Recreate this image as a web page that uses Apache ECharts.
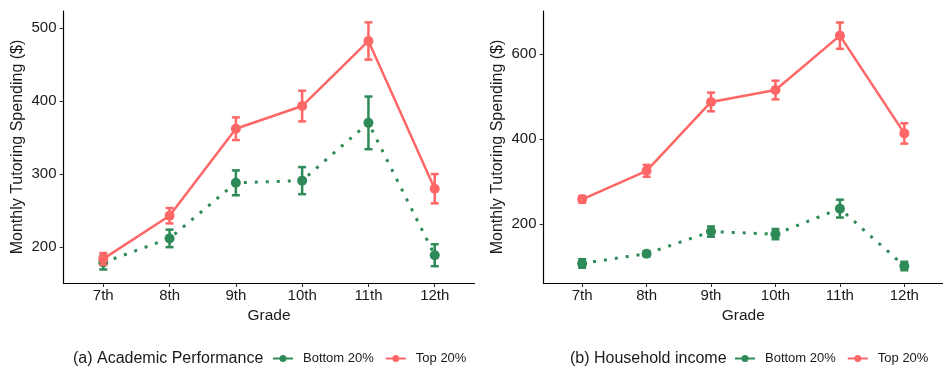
<!DOCTYPE html>
<html>
<head>
<meta charset="utf-8">
<script src="https://cdn.jsdelivr.net/npm/echarts@6/dist/echarts.min.js"></script>
<style>
html,body{margin:0;padding:0;background:#fff;}
#c{width:943px;height:368px;}
</style>
</head>
<body>
<div id="c"></div>
<script>
// ---- data ----
var grades = ['7th', '8th', '9th', '10th', '11th', '12th'];
var seriesNames = ['Bottom 20%', 'Top 20%'];
var panelCaptions = ['(a) Academic Performance', '(b) Household income'];
var yTicksAcademic = [200, 300, 400, 500];
var yTicksIncome = [200, 400, 600];

// (a) Academic performance
var acadBottomMean = [179, 212, 288, 291, 370, 189];
var acadBottomErr  = [9.5, 12, 17, 18.5, 36, 15];
var acadTopMean    = [184, 243, 362, 393, 482, 280];
var acadTopErr     = [8, 10.5, 15.5, 21, 25.5, 20];

// (b) Household income
var incBottomMean = [107, 130, 182, 176, 236, 101];
var incBottomErr  = [10, 6, 12, 12, 21, 10];
var incTopMean    = [258, 325, 487, 515, 643, 413];
var incTopErr     = [8, 14, 22, 22, 31, 24];

// ---- style ----
var GREEN = '#2E8B57';
var RED = '#FF6666';
var FONT = 'Liberation Sans, Arial, Helvetica, sans-serif';

function pts(means) { return means.map(function (v, i) { return [i + 1, v]; }); }
function bars(means, errs) { return means.map(function (v, i) { return [i + 1, v - errs[i], v + errs[i]]; }); }

function errSeries(name, means, errs, color, idx) {
  return {
    type: 'custom', name: name, xAxisIndex: idx, yAxisIndex: idx,
    data: bars(means, errs), z: color === RED ? 4 : 2,
    renderItem: function (params, api) {
      var x = api.value(0);
      var lo = api.coord([x, api.value(1)]);
      var hi = api.coord([x, api.value(2)]);
      var hw = 4;
      var st = { stroke: color, lineWidth: 2.5, fill: null };
      return {
        type: 'group',
        children: [
          { type: 'line', shape: { x1: lo[0], y1: lo[1], x2: hi[0], y2: hi[1] }, style: st },
          { type: 'line', shape: { x1: lo[0] - hw, y1: lo[1], x2: lo[0] + hw, y2: lo[1] }, style: st },
          { type: 'line', shape: { x1: hi[0] - hw, y1: hi[1], x2: hi[0] + hw, y2: hi[1] }, style: st }
        ]
      };
    }
  };
}
function lineSeries(name, means, color, idx, dotted) {
  return {
    type: 'line', name: name, xAxisIndex: idx, yAxisIndex: idx,
    data: pts(means), symbol: 'circle', symbolSize: 10,
    itemStyle: { color: color },
    lineStyle: dotted ? { color: color, width: 3, type: [3, 8], cap: 'butt' } : { color: color, width: 2.5 },
    z: color === RED ? 5 : 3,
    animation: false
  };
}

function xAxis(idx) {
  return {
    type: 'value', gridIndex: idx, min: 0.4, max: 6.6,
    name: 'Grade', nameLocation: 'middle', nameGap: 24,
    nameTextStyle: { color: '#1a1a1a', fontSize: 15.5, fontFamily: FONT },
    splitLine: { show: false },
    axisLine: { show: true, lineStyle: { color: '#000', width: 1.2 } },
    axisTick: { show: true, length: 4, lineStyle: { color: '#333', width: 1.1 }, customValues: [1, 2, 3, 4, 5, 6] },
    axisLabel: { color: '#1a1a1a', fontSize: 15, fontFamily: FONT, margin: 5,
      customValues: [1, 2, 3, 4, 5, 6],
      formatter: function (v) { return grades[Math.round(v) - 1]; } }
  };
}
function yAxis(idx, min, max, ticks) {
  return {
    type: 'value', gridIndex: idx, min: min, max: max,
    name: 'Monthly Tutoring Spending ($)', nameLocation: 'middle', nameGap: 38,
    nameTextStyle: { color: '#1a1a1a', fontSize: 16, fontFamily: FONT },
    splitLine: { show: false },
    axisLine: { show: true, lineStyle: { color: '#000', width: 1.2 } },
    axisTick: { show: true, length: 4, lineStyle: { color: '#333', width: 1.1 }, customValues: ticks },
    axisLabel: { color: '#1a1a1a', fontSize: 15, fontFamily: FONT, margin: 7, customValues: ticks }
  };
}

var ICON = 'path://M0,3 L20,3 L20,5 L0,5 Z M13.5,4 A3.5,3.5 0 1 1 6.5,4 A3.5,3.5 0 1 1 13.5,4 Z';
function legend(left) {
  return {
    left: left, top: 352, padding: 0, itemGap: 12, itemWidth: 20, itemHeight: 7,
    icon: ICON, selectedMode: false,
    data: [{ name: seriesNames[0], itemStyle: { color: GREEN } }, { name: seriesNames[1], itemStyle: { color: RED } }],
    textStyle: { color: '#1a1a1a', fontSize: 13, fontFamily: FONT, padding: [0, 0, 0, 5] }
  };
}

var option = {
  animation: false,
  backgroundColor: '#fff',
  title: [
    { text: panelCaptions[0], left: 73, top: 351, padding: 0, textStyle: { color: '#1a1a1a', fontSize: 16, fontWeight: 'normal', fontFamily: FONT } },
    { text: panelCaptions[1], left: 570, top: 351, padding: 0, textStyle: { color: '#1a1a1a', fontSize: 16, fontWeight: 'normal', fontFamily: FONT } }
  ],
  legend: [legend(273), legend(735)],
  grid: [
    { left: 63.5, top: 11, width: 411, height: 272 },
    { left: 543.5, top: 11, width: 411, height: 272 }
  ],
  xAxis: [xAxis(0), xAxis(1)],
  yAxis: [yAxis(0, 151, 523, yTicksAcademic), yAxis(1, 61, 701, yTicksIncome)],
  series: [
    lineSeries(seriesNames[0], acadBottomMean, GREEN, 0, true),
    errSeries(seriesNames[0], acadBottomMean, acadBottomErr, GREEN, 0),
    lineSeries(seriesNames[1], acadTopMean, RED, 0, false),
    errSeries(seriesNames[1], acadTopMean, acadTopErr, RED, 0),
    lineSeries(seriesNames[0], incBottomMean, GREEN, 1, true),
    errSeries(seriesNames[0], incBottomMean, incBottomErr, GREEN, 1),
    lineSeries(seriesNames[1], incTopMean, RED, 1, false),
    errSeries(seriesNames[1], incTopMean, incTopErr, RED, 1)
  ]
};
var chart = echarts.init(document.getElementById('c'), null, { renderer: 'canvas' });
chart.setOption(option);
</script>
</body>
</html>
